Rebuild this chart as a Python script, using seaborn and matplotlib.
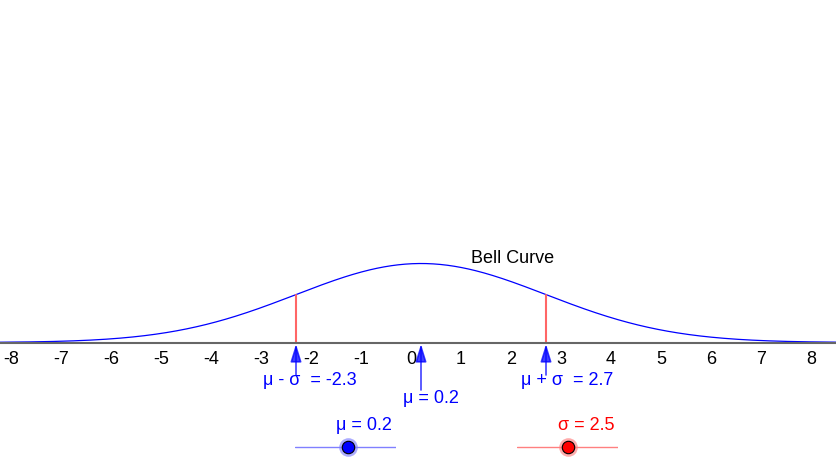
import numpy as np
import pandas as pd
import matplotlib
matplotlib.use("Agg")
import matplotlib.pyplot as plt
import seaborn as sns

# chart values
mu = 0.2
sigma = 2.5
tick_values = list(range(-8, 9))
mu_slider_range = [-5, 5]
sigma_slider_range = [0, 5]

sns.set_style("white")
plt.rcParams["font.family"] = ["Liberation Sans", "DejaVu Sans"]
plt.rcParams["axes.unicode_minus"] = False

W, H = 836, 465
fig = plt.figure(figsize=(W / 100, H / 100), dpi=100)
ax = fig.add_axes([0, 0, 1, 1])

# pixel mapping of the reference: x=0 at 411px, 50px per unit, axis at 342.5px
x0_px, x_unit = 411, 50
y0_px, y_unit = 342.5, 495
ax.set_xlim(-x0_px / x_unit, (W - x0_px) / x_unit)
ax.set_ylim(-(H - y0_px) / y_unit, y0_px / y_unit)


def py(p):
    return (y0_px - p) / y_unit


def px(p):
    return (p - x0_px) / x_unit


def pdf(v):
    return np.exp(-0.5 * ((v - mu) / sigma) ** 2) / (sigma * np.sqrt(2 * np.pi))


# bell curve (normal density with the shown mu and sigma)
xs = np.linspace(-8.3, 8.6, 600)
curve = pd.DataFrame({"x": xs, "y": pdf(xs)})
sns.lineplot(data=curve, x="x", y="y", ax=ax, color="#0000ff", lw=0.9)

# red lines at mu - sigma and mu + sigma
for v in (mu - sigma, mu + sigma):
    ax.plot([v, v], [0, pdf(v)], color="#ff6666", lw=1.5)

ax.text(px(513), py(258), "Bell Curve", ha="center", va="center",
        fontsize=13, color="black")

# axis
for s in ("top", "left", "right"):
    ax.spines[s].set_visible(False)
ax.spines["bottom"].set_position(("data", 0))
ax.spines["bottom"].set_color("#666666")
ax.spines["bottom"].set_linewidth(1.5)
ax.set_xticks(tick_values)
ax.set_xticklabels([str(t) for t in tick_values])
ax.tick_params(axis="x", direction="out", length=3.5, width=1, color="#666666",
               labelsize=13, labelcolor="black", pad=2.5)
ax.set_yticks([])
ax.set_xlabel("")
ax.set_ylabel("")

# arrows with labels
arrow_kw = dict(arrowstyle="-|>,head_length=0.9,head_width=0.28",
                color="#0000ff", lw=1.2, alpha=0.75, mutation_scale=12,
                shrinkA=0, shrinkB=0)
arrows = [
    (mu - sigma, 375, "μ - σ  = %.1f" % (mu - sigma), 310, 380),
    (mu, 390, "μ = %.1f" % mu, 431, 398),
    (mu + sigma, 375, "μ + σ  = %.1f" % (mu + sigma), 567, 380),
]
for v, tail, label, tx, ty in arrows:
    ax.annotate("", xy=(v, py(344)), xytext=(v, py(tail)), arrowprops=arrow_kw)
    ax.text(px(tx), py(ty), label, ha="center", va="center",
            fontsize=13, color="#0000ff")

# sliders
sliders = [
    (mu, mu_slider_range, 295, "#0000ff", "#8080ff", "μ = %.1f" % mu),
    (sigma, sigma_slider_range, 517, "#ff0000", "#ff8080", "σ = %.1f" % sigma),
]
for val, rng, left, col, light, label in sliders:
    sax = fig.add_axes([left / W, 1 - 457 / H, 101 / W, 20 / H])
    sax.set_xlim(rng)
    sax.set_ylim(-1, 1)
    sax.axis("off")
    sax.plot(rng, [0, 0], color=light, lw=1)
    sax.scatter([val], [0], s=180, color=light, alpha=0.65, zorder=3, linewidths=0)
    sax.scatter([val], [0], s=80, color=col, edgecolors="black", linewidths=0.8, zorder=4)
    ax.text(px(left + 69), py(425), label, ha="center", va="center",
            fontsize=13, color=col)

fig.savefig("out.png", dpi=100)
